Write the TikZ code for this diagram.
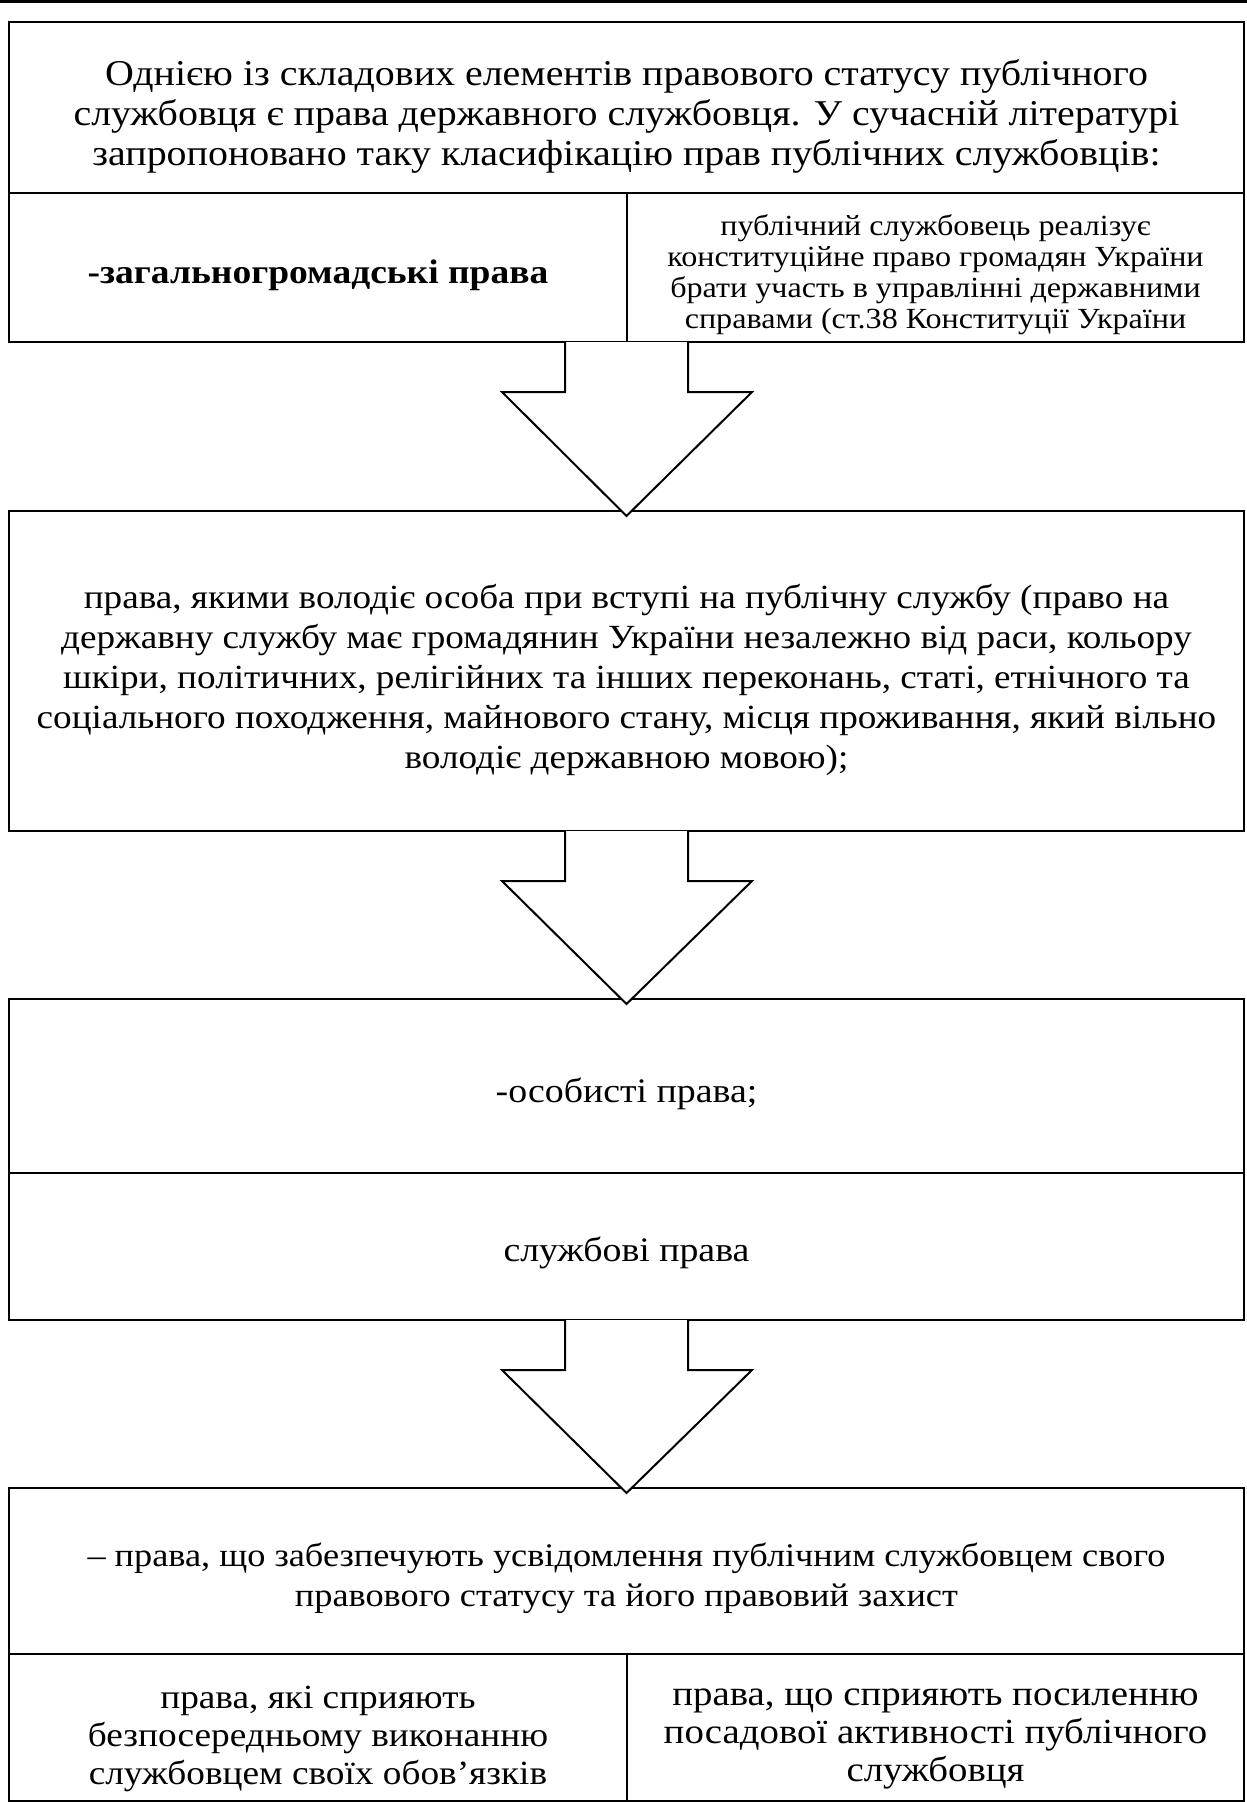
\documentclass[tikz,border=0pt]{standalone}
\usepackage{fontspec}
\setmainfont[FakeStretch=1.1]{Liberation Serif}
\usetikzlibrary{calc}

\tikzset{
  cell/.style={draw, line width=2.5pt, inner sep=0pt, outer sep=0pt},
  label/.style={inner sep=0pt, align=center},
  blockarrow/.style={draw, line width=2pt, fill=white, line join=miter}
}
\newcommand\fs[2]{\fontsize{#1}{#2}\selectfont}

% block arrow from the bottom edge of one box (#1) to the top of the next (#2)
\newcommand\blockdown[2]{%
  \draw[blockarrow] let \p1=(#1), \p2=(#2) in
    (\x2-61.5pt,\y1) -- (\x2-61.5pt,\y1-50pt) -- (\x2-124.5pt,\y1-50pt)
    -- (\x2,\y2-5pt) -- (\x2+125.5pt,\y1-50pt) -- (\x2+61.5pt,\y1-50pt)
    -- (\x2+61.5pt,\y1);}

\begin{document}
\begin{tikzpicture}[x=1pt,y=-1pt]
\useasboundingbox (0,0) rectangle (1247,1802);

% rule across the top of the page
\coordinate (ruleL) at (0,1.35);
\coordinate (ruleR) at (1247,1.35);
\draw[line width=2.7pt] (ruleL) -- (ruleR);

% first block
\node[cell, minimum width=1235pt, minimum height=171pt] (b1) at (626.5,107.5) {};
\node[cell, minimum width=618pt, minimum height=149pt] (b1l) at (318,267.5) {};
\node[cell, minimum width=617pt, minimum height=149pt] (b1r) at (935.5,267.5) {};
\node[label, font=\fs{36.3}{40}] (t1) at (626.5,116)
  {Однією із складових елементів правового статусу публічного\\
   службовця є права державного службовця. У сучасній літературі\\
   запропоновано таку класифікацію прав публічних службовців:};
\node[label, font=\fs{34.1}{38}\bfseries] (t1l) at (318,275.5)
  {-загальногромадські права};
\node[label, font=\fs{29.2}{31}] (t1r) at (935.5,275)
  {публічний службовець реалізує\\
   конституційне право громадян України\\
   брати участь в управлінні державними\\
   справами (ст.38 Конституції України};

% second block
\node[cell, minimum width=1235pt, minimum height=320pt] (b2) at (626.5,671) {};
\node[label, font=\fs{33.8}{40}] (t2) at (626.5,680)
  {права, якими володіє особа при вступі на публічну службу (право на\\
   державну службу має громадянин України незалежно від раси, кольору\\
   шкіри, політичних, релігійних та інших переконань, статі, етнічного та\\
   соціального походження, майнового стану, місця проживання, який вільно\\
   володіє державною мовою);};

% third block
\node[cell, minimum width=1235pt, minimum height=174pt] (b3a) at (626.5,1086) {};
\node[cell, minimum width=1235pt, minimum height=147pt] (b3b) at (626.5,1246.5) {};
\node[label, font=\fs{34.4}{40}] (t3a) at (626.5,1094) {-особисті права;};
\node[label, font=\fs{34.4}{40}] (t3b) at (626.5,1253) {службові права};

% fourth block
\node[cell, minimum width=1235pt, minimum height=166pt] (b4) at (626.5,1571) {};
\node[cell, minimum width=618pt, minimum height=147pt] (b4l) at (318,1727.5) {};
\node[cell, minimum width=617pt, minimum height=147pt] (b4r) at (935.5,1727.5) {};
\node[label, font=\fs{33}{40}] (t4) at (626.5,1578)
  {– права, що забезпечують усвідомлення публічним службовцем свого\\
   правового статусу та його правовий захист};
\node[label, font=\fs{33.9}{38}] (t4l) at (318,1739)
  {права, які сприяють\\
   безпосередньому виконанню\\
   службовцем своїх обов’язків};
\node[label, font=\fs{35.3}{38}] (t4r) at (935.5,1739)
  {права, що сприяють посиленню\\
   посадової активності публічного\\
   службовця};

% arrows between the blocks
\blockdown{b1l.south east}{b2.north}
\blockdown{b2.south}{b3a.north}
\blockdown{b3b.south}{b4.north}
\end{tikzpicture}
\end{document}
